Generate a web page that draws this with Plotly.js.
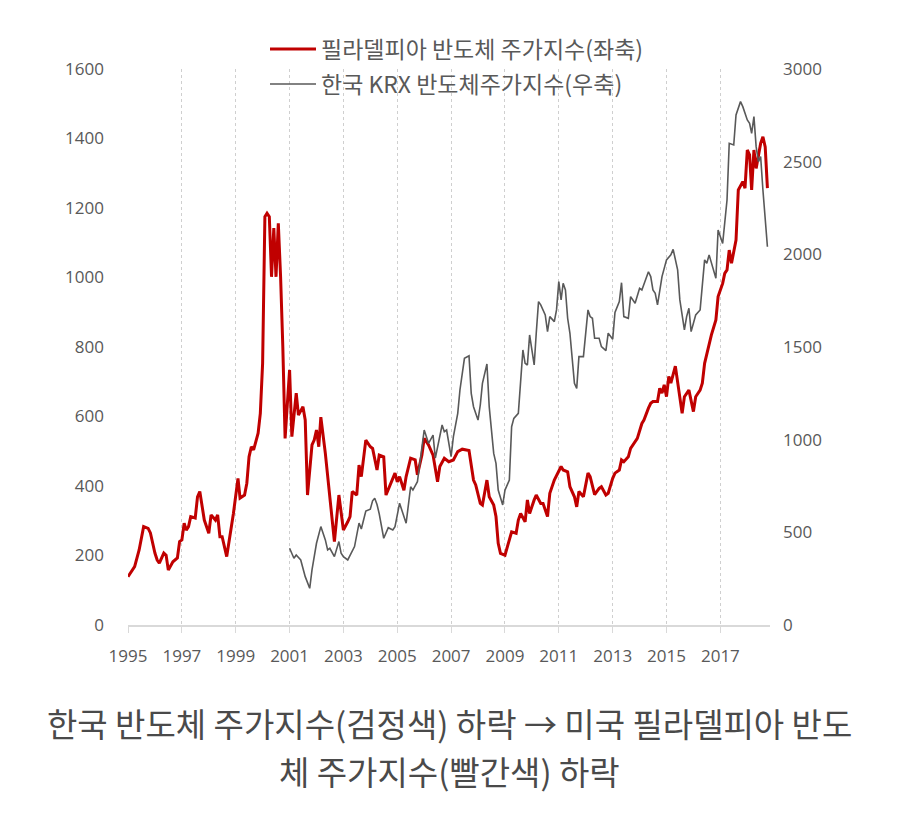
<!DOCTYPE html>
<html>
<head>
<meta charset="utf-8">
<script src="https://cdn.plot.ly/plotly-3.0.1.min.js"></script>
<style>
  html, body { margin: 0; padding: 0; background: #ffffff; }
  #chart { width: 900px; height: 831px; }
</style>
</head>
<body>
<div id="chart"></div>
<script>
// ---- Data ----
const soxName = '필라델피아 반도체 주가지수(좌축)';
const krxName = '한국 KRX 반도체주가지수(우축)';

const soxDates = ['1995-01','1995-04','1995-06','1995-08','1995-10','1995-11','1996-01','1996-02','1996-03','1996-05','1996-06','1996-07','1996-09','1996-11','1996-12',
'1997-01','1997-02','1997-03','1997-04','1997-05','1997-07','1997-08','1997-09','1997-11','1998-01','1998-02','1998-04','1998-05','1998-06','1998-07','1998-09','1998-10','1998-12',
'1999-02','1999-03','1999-05','1999-06','1999-07','1999-08','1999-09','1999-11','1999-12','2000-01','2000-02','2000-03','2000-04','2000-05','2000-06','2000-07','2000-08','2000-09','2000-10','2000-11',
'2001-01','2001-02','2001-04','2001-05','2001-07','2001-08','2001-09','2001-11','2001-12','2002-01','2002-02','2002-03','2002-05','2002-07','2002-08','2002-09','2002-11',
'2003-01','2003-03','2003-04','2003-05','2003-07','2003-08','2003-09','2003-11','2004-01','2004-02','2004-04','2004-05','2004-07','2004-08','2004-10','2004-12',
'2005-01','2005-02','2005-04','2005-05','2005-07','2005-09','2005-10','2005-12','2006-01','2006-03','2006-05','2006-07','2006-08','2006-10','2006-12',
'2007-02','2007-04','2007-06','2007-09','2007-11','2007-12','2008-02','2008-03','2008-05','2008-06','2008-08','2008-09','2008-10','2008-11',
'2009-01','2009-03','2009-04','2009-06','2009-07','2009-08','2009-10','2009-11','2009-12','2010-02','2010-03','2010-05','2010-06','2010-08','2010-09','2010-11',
'2011-02','2011-03','2011-05','2011-06','2011-08','2011-09','2011-10','2011-12','2012-02','2012-03','2012-05','2012-07','2012-08','2012-10','2012-11',
'2013-01','2013-02','2013-04','2013-05','2013-06','2013-08','2013-09','2013-11','2013-12','2014-02','2014-03','2014-05','2014-06','2014-07','2014-09','2014-10','2014-11','2014-12',
'2015-01','2015-02','2015-03','2015-05','2015-06','2015-07','2015-08','2015-09','2015-11','2016-01','2016-02','2016-04','2016-05','2016-06','2016-08','2016-09','2016-11','2016-12',
'2017-02','2017-03','2017-04','2017-05','2017-06','2017-08','2017-09','2017-11','2017-12','2018-01','2018-02','2018-03','2018-04','2018-05','2018-07','2018-08','2018-09','2018-10'];

const soxValues = [139,168,216,283,278,265,207,187,178,207,201,158,182,193,240,
245,293,273,283,312,308,369,384,302,264,317,302,317,254,254,197,235,321,
422,365,374,408,484,513,504,552,609,753,1175,1185,1175,1002,1142,1002,1156,1002,801,537,
734,542,667,604,628,590,374,518,532,561,513,598,494,369,302,240,374,
273,297,312,384,374,460,427,532,513,508,446,489,484,374,403,437,
412,427,388,427,480,475,432,489,537,518,489,412,456,480,470,
475,499,506,502,417,403,350,345,417,369,345,312,235,206,
201,245,268,264,302,321,297,360,321,360,374,350,350,312,379,417,
456,446,441,398,369,340,384,369,437,427,375,393,398,374,379,
422,437,446,475,470,484,508,528,537,580,590,624,638,643,643,681,667,691,
657,715,696,745,696,647,609,657,676,614,657,676,696,753,811,835,878,945,
983,1012,1022,1079,1041,1108,1252,1276,1257,1367,1353,1252,1367,1314,1386,1405,1376,1257];

const krxDates = ['2001-01','2001-03','2001-04','2001-06','2001-08','2001-10','2001-11','2001-12','2002-01','2002-03','2002-05','2002-06','2002-07','2002-09','2002-11','2002-12',
'2003-01','2003-03','2003-06','2003-08','2003-09','2003-11','2004-01','2004-02','2004-03','2004-04','2004-05','2004-07','2004-09','2004-11','2004-12',
'2005-02','2005-03','2005-05','2005-07','2005-08','2005-10','2005-12','2006-01','2006-03','2006-05','2006-06','2006-08','2006-09','2006-10','2006-11',
'2007-01','2007-02','2007-04','2007-05','2007-07','2007-09','2007-10','2007-11','2008-01','2008-02','2008-03','2008-05','2008-06','2008-08','2008-09','2008-10','2008-12',
'2009-01','2009-03','2009-04','2009-05','2009-07','2009-08','2009-09','2009-10','2009-11','2009-12','2010-02','2010-03','2010-04','2010-05','2010-07','2010-08','2010-09','2010-11','2010-12',
'2011-01','2011-02','2011-03','2011-04','2011-05','2011-06','2011-08','2011-09','2011-10','2011-12','2012-02','2012-03','2012-04','2012-05','2012-07','2012-08','2012-10','2012-11',
'2013-01','2013-02','2013-04','2013-05','2013-06','2013-08','2013-09','2013-11','2014-01','2014-02','2014-05','2014-06','2014-07','2014-08','2014-09','2014-11',
'2015-01','2015-03','2015-04','2015-06','2015-07','2015-09','2015-10','2015-11','2015-12','2016-02','2016-04','2016-06','2016-07','2016-08','2016-11','2016-12',
'2017-02','2017-04','2017-05','2017-07','2017-08','2017-10','2017-11','2018-01','2018-02','2018-03','2018-04','2018-05','2018-06','2018-07','2018-08','2018-10'];

const krxValues = [414,360,378,351,261,198,297,380,441,531,459,405,414,369,450,387,
369,351,423,550,518,615,625,670,684,650,600,468,525,513,531,
657,620,549,746,728,773,944,1052,980,1025,900,1007,1079,1043,1052,
908,1016,1142,1268,1439,1452,1250,1178,1106,1187,1304,1408,1178,926,872,728,648,
728,782,1070,1115,1142,1313,1484,1412,1403,1565,1403,1574,1745,1727,1673,1583,1664,1637,1700,
1853,1754,1844,1808,1655,1574,1304,1277,1448,1448,1700,1664,1655,1547,1547,1502,1480,1575,
1542,1686,1745,1847,1664,1655,1772,1736,1817,1808,1906,1880,1808,1790,1727,1880,
1970,1997,2027,1916,1754,1592,1664,1709,1583,1673,1700,1970,1952,1997,1871,2131,
2059,2293,2599,2590,2752,2824,2797,2725,2707,2653,2743,2581,2500,2527,2347,2041];

const yearTickVals = ['1995-01-01','1997-01-01','1999-01-01','2001-01-01','2003-01-01','2005-01-01','2007-01-01','2009-01-01','2011-01-01','2013-01-01','2015-01-01','2017-01-01'];
const yearTickText = ['1995','1997','1999','2001','2003','2005','2007','2009','2011','2013','2015','2017'];
const leftTicks = [0,200,400,600,800,1000,1200,1400,1600];
const rightTicks = [0,500,1000,1500,2000,2500,3000];

const captionLine1 = '한국 반도체 주가지수(검정색) 하락 → 미국 필라델피아 반도';
const captionLine2 = '체 주가지수(빨간색) 하락';

// ---- Styling ----
const tickFont = { family: 'Open Sans, sans-serif', size: 17, color: '#595959' };
const korFont = 'Noto Sans CJK KR, sans-serif';

const traces = [
  {
    x: soxDates, y: soxValues, name: soxName, type: 'scatter', mode: 'lines',
    line: { color: '#c00000', width: 3 }, yaxis: 'y', legend: 'legend'
  },
  {
    x: krxDates, y: krxValues, name: krxName, type: 'scatter', mode: 'lines',
    line: { color: '#595959', width: 1.6 }, yaxis: 'y2', legend: 'legend2'
  }
];

const legendFont = { family: korFont, size: 23, color: '#595959' };

const layout = {
  width: 900, height: 831,
  paper_bgcolor: '#ffffff', plot_bgcolor: '#ffffff',
  margin: { l: 128, r: 130, t: 69, b: 206 },
  showlegend: true,
  xaxis: {
    type: 'date',
    range: ['1995-01-01', '2018-11-05'],
    tickvals: yearTickVals, ticktext: yearTickText,
    showgrid: true, gridcolor: '#cfcfcf', griddash: 'dot', gridwidth: 1,
    showline: true, linecolor: '#d9d9d9', linewidth: 2,
    ticks: 'outside', ticklen: 6, tickcolor: '#d9d9d9', tickwidth: 1,
    zeroline: false, tickfont: tickFont, ticklabelstandoff: 9
  },
  yaxis: {
    range: [0, 1600], tickvals: leftTicks,
    showgrid: false, zeroline: false, showline: false,
    ticks: '', tickfont: tickFont, ticklabelstandoff: 23
  },
  yaxis2: {
    range: [0, 3000], tickvals: rightTicks, overlaying: 'y', side: 'right',
    showgrid: false, zeroline: false, showline: false,
    ticks: '', tickfont: tickFont, ticklabelstandoff: 12
  },
  legend: {
    x: 0.2134, xanchor: 'left', y: 1 + 20 / 556, yanchor: 'middle',
    bgcolor: 'rgba(0,0,0,0)', font: legendFont, itemwidth: 46
  },
  legend2: {
    x: 0.2134, xanchor: 'left', y: 1 - 15 / 556, yanchor: 'middle',
    bgcolor: 'rgba(0,0,0,0)', font: legendFont, itemwidth: 46
  },
  annotations: [
    { text: captionLine1, xref: 'paper', yref: 'paper', x: 0.5, y: (625 - 723) / 556,
      xanchor: 'center', yanchor: 'middle', showarrow: false,
      font: { family: korFont, size: 33, color: '#4a4a4a' } },
    { text: captionLine2, xref: 'paper', yref: 'paper', x: 0.5, y: (625 - 771) / 556,
      xanchor: 'center', yanchor: 'middle', showarrow: false,
      font: { family: korFont, size: 33, color: '#4a4a4a' } }
  ]
};

Plotly.newPlot('chart', traces, layout, { displayModeBar: false, staticPlot: true });
</script>
</body>
</html>
